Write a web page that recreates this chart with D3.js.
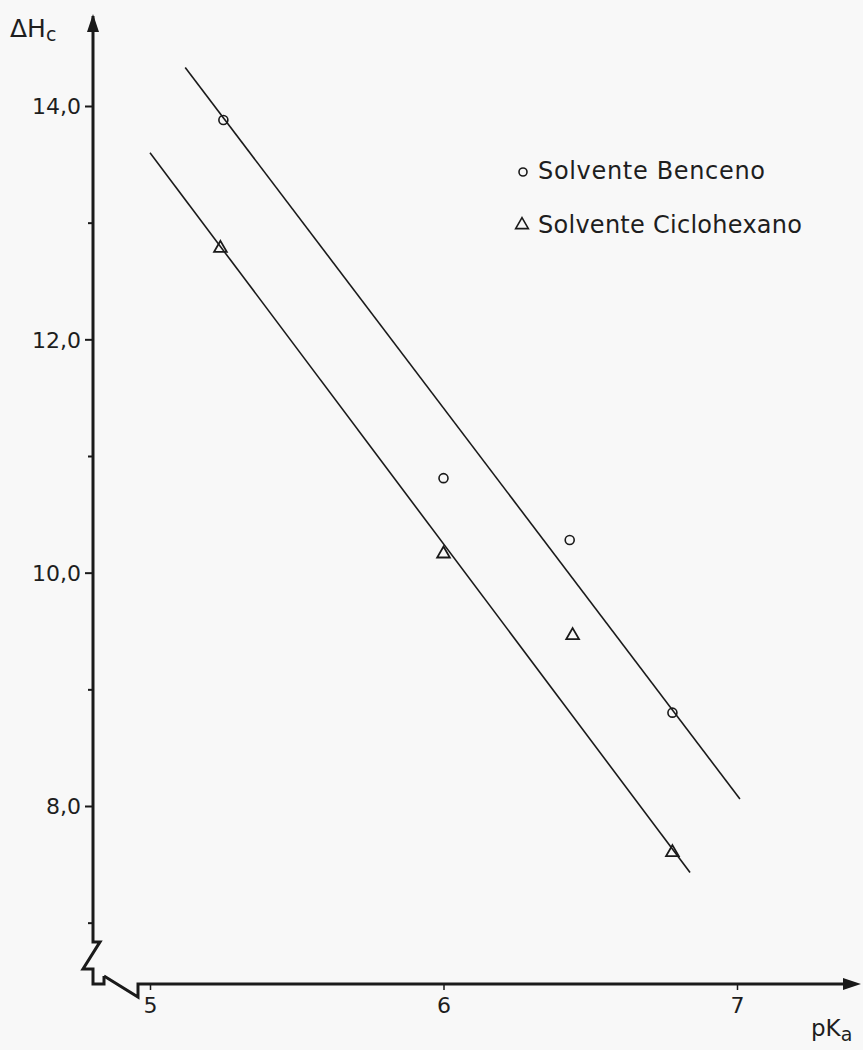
<!DOCTYPE html>
<html>
<head>
<meta charset="utf-8">
<script src="https://cdn.jsdelivr.net/npm/d3@7"></script>
<style>
  body { margin: 0; background: #f8f8f8; }
  svg { display: block; }
  text { font-family: "DejaVu Sans", sans-serif; fill: #1e1e1e; }
</style>
</head>
<body>
<svg width="863" height="1050"></svg>
<script>
// values
var pKa = [5.25, 6.0, 6.43, 6.78];
var dhBenceno = [13.88, 10.81, 10.28, 8.80];
var pKaCiclo = [5.24, 6.0, 6.44, 6.78];
var dhCiclo = [12.79, 10.17, 9.47, 7.61];

// fitted lines, end points as drawn
var lineBenceno = [[5.12, 14.33], [7.01, 8.06]];
var lineCiclo = [[5.0, 13.60], [6.84, 7.43]];

var yTicks = [7, 8, 9, 10, 11, 12, 13, 14];
var yLabels = [8, 10, 12, 14];
var xTicks = [5, 6, 7];

var legendLabels = ["Solvente Benceno", "Solvente Ciclohexano"];

var svg = d3.select("svg");
svg.append("rect").attr("width", 863).attr("height", 1050).attr("fill", "#f8f8f8");

var x = d3.scaleLinear().domain([5, 7]).range([150, 737]);
var y = d3.scaleLinear().domain([8, 14]).range([806, 106]);

var ink = "#1a1a1a";
var axisX = 93, axisY = 984;

// y axis with break
var yTop = 16, yBreak = y(6.835);
svg.append("path")
    .attr("d", "M" + axisX + "," + yTop + "V" + yBreak + "h7l-17,27h10V" + axisY + "h11v-8")
    .attr("fill", "none").attr("stroke", ink).attr("stroke-width", 3).attr("stroke-linejoin", "miter");
svg.append("path")
    .attr("d", "M" + axisX + ",14l-6,18h12z")
    .attr("fill", ink);

// x axis with break
var xStart = 138;
svg.append("path")
    .attr("d", "M" + (axisX + 11) + "," + (axisY - 8) + "L" + xStart + "," + (axisY + 13) + "V" + axisY + "H" + 846)
    .attr("fill", "none").attr("stroke", ink).attr("stroke-width", 3);
svg.append("path")
    .attr("d", "M861," + axisY + "l-18,-6v12z")
    .attr("fill", ink);

// y ticks
var yAxis = d3.axisLeft(y)
    .tickValues(yTicks)
    .tickSize(7)
    .tickFormat(function(d) { return yLabels.indexOf(d) >= 0 ? d.toFixed(1).replace(".", ",") : ""; });
var gy = svg.append("g").attr("transform", "translate(" + axisX + ",0)").call(yAxis);
gy.select(".domain").remove();
gy.selectAll(".tick line").attr("stroke", ink).attr("stroke-width", 2)
    .attr("x2", function(d) { return yLabels.indexOf(d) >= 0 ? -8 : -5; });
gy.selectAll(".tick text").attr("x", -12).attr("dy", "0.36em")
    .style("font-size", "22px").style("font-family", "DejaVu Sans").attr("fill", "#1e1e1e");

// x ticks
var xAxis = d3.axisBottom(x).tickValues(xTicks).tickSize(6).tickFormat(d3.format("d"));
var gx = svg.append("g").attr("transform", "translate(0," + axisY + ")").call(xAxis);
gx.select(".domain").remove();
gx.selectAll(".tick line").attr("stroke", ink).attr("stroke-width", 1.5);
gx.selectAll(".tick text").attr("y", 13).attr("dy", "0.71em")
    .style("font-size", "22px").style("font-family", "DejaVu Sans").attr("fill", "#1e1e1e");

// axis titles
var yt = svg.append("text").attr("x", 10).attr("y", 37).style("font-size", "25px");
yt.append("tspan").text("\u0394H");
yt.append("tspan").attr("dy", 4).style("font-size", "19px").text("c");

var xt = svg.append("text").attr("x", 811).attr("y", 1036).style("font-size", "23px");
xt.append("tspan").text("pK");
xt.append("tspan").attr("dy", 5).style("font-size", "19px").text("a");

// fitted lines
var line = d3.line().x(function(d) { return x(d[0]); }).y(function(d) { return y(d[1]); });
svg.append("path").attr("d", line(lineBenceno)).attr("fill", "none").attr("stroke", ink).attr("stroke-width", 1.6);
svg.append("path").attr("d", line(lineCiclo)).attr("fill", "none").attr("stroke", ink).attr("stroke-width", 1.6);

// points
var tri = d3.symbol().type(d3.symbolTriangle).size(70);

svg.selectAll("circle.benceno")
    .data(d3.zip(pKa, dhBenceno))
    .enter().append("circle")
    .attr("class", "benceno")
    .attr("cx", function(d) { return x(d[0]); })
    .attr("cy", function(d) { return y(d[1]); })
    .attr("r", 4.5)
    .attr("fill", "none").attr("stroke", ink).attr("stroke-width", 1.6);

svg.selectAll("path.ciclo")
    .data(d3.zip(pKaCiclo, dhCiclo))
    .enter().append("path")
    .attr("class", "ciclo")
    .attr("d", tri)
    .attr("transform", function(d) { return "translate(" + x(d[0]) + "," + (y(d[1]) + 1) + ")"; })
    .attr("fill", "none").attr("stroke", ink).attr("stroke-width", 1.8);

// legend
var legend = svg.append("g");
legend.append("circle").attr("cx", 523).attr("cy", 172).attr("r", 4)
    .attr("fill", "none").attr("stroke", ink).attr("stroke-width", 1.6);
legend.append("path").attr("d", tri).attr("transform", "translate(522,225)")
    .attr("fill", "none").attr("stroke", ink).attr("stroke-width", 1.6);
legend.selectAll("text")
    .data(legendLabels)
    .enter().append("text")
    .attr("x", 538)
    .attr("y", function(d, i) { return 179 + i * 54; })
    .attr("textLength", function(d, i) { return i === 0 ? 227 : 264; })
    .style("font-size", "24px")
    .text(function(d) { return d; });
</script>
</body>
</html>
